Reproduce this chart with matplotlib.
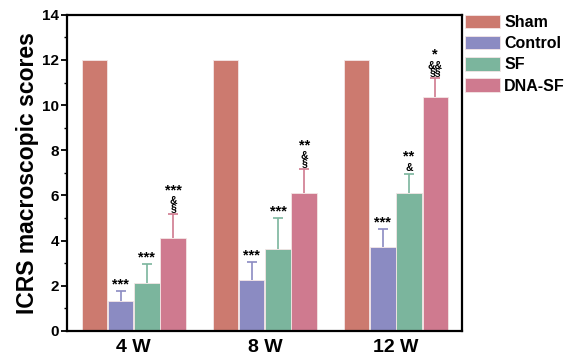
import numpy as np
import matplotlib.pyplot as plt

plt.rcParams['font.family'] = ['Liberation Sans', 'DejaVu Sans']
plt.rcParams['font.weight'] = 'bold'

weeks = ["4 W", "8 W", "12 W"]
groups = ["Sham", "Control", "SF", "DNA-SF"]
colors = ["#CC7A6F", "#8B8BC2", "#7BB59D", "#CF7A8F"]

# means per group (4 W, 8 W, 12 W)
sham = [12.0, 12.0, 12.0]
control = [1.33, 2.25, 3.72]
sf = [2.13, 3.63, 6.11]
dna_sf = [4.12, 6.11, 10.37]

# upper error (sd)
sham_err = [0, 0, 0]
control_err = [0.45, 0.8, 0.8]
sf_err = [0.85, 1.37, 0.85]
dna_sf_err = [1.06, 1.07, 0.83]

# significance marks above bars (top line first)
control_marks = ["***", "***", "***"]
sf_marks = ["***", "***", "**\n&"]
dna_sf_marks = ["***\n&\n§", "**\n&\n§", "*\n&&\n§§"]

means = [sham, control, sf, dna_sf]
errs = [sham_err, control_err, sf_err, dna_sf_err]
marks = [None, control_marks, sf_marks, dna_sf_marks]

fig = plt.figure(figsize=(5.69, 3.62), dpi=100)
ax = fig.add_axes([0.118, 0.086, 0.694, 0.873])
renderer = fig.canvas.get_renderer()

x = np.arange(len(weeks))
width = 0.2
offsets = [-1.5, -0.5, 0.5, 1.5]


def put_marks(xp, yp, text):
    # stars on top, & / § lines stacked under them
    lines = text.split("\n")
    stars = lines[0]
    h = 0.0
    if len(lines) > 1:
        t = ax.annotate("\n".join(lines[1:]), (xp, yp), xytext=(0, 0.5), textcoords="offset points",
                        ha="center", va="bottom", fontsize=7.5, fontweight="bold", linespacing=0.6)
        h = t.get_window_extent(renderer).height * 72.0 / fig.dpi + 0.5
    ax.annotate(stars, (xp, yp), xytext=(0, h - 0.5), textcoords="offset points",
                ha="center", va="bottom", fontsize=10.5, fontweight="bold")


for i in range(len(groups)):
    pos = x + offsets[i] * width
    ax.bar(pos, means[i], width * 0.97, color=colors[i], edgecolor="#f4e6e6",
           linewidth=0.6, label=groups[i], zorder=2)
    if i > 0:
        eb = ax.errorbar(pos, means[i], yerr=[np.zeros(3), errs[i]], fmt="none",
                         ecolor=colors[i], elinewidth=1.2, capsize=3.5, capthick=1.2, zorder=1)
        eb[1][0].set_visible(False)  # no lower cap

ax.set_xlim(-0.508, 2.504)
ax.set_ylim(0, 14)

for i in range(1, len(groups)):
    pos = x + offsets[i] * width
    for j in range(len(weeks)):
        put_marks(pos[j], means[i][j] + errs[i][j], marks[i][j])

ax.set_yticks(np.arange(0, 15, 2))
ax.set_yticks(np.arange(0, 15, 1), minor=True)
ax.set_xticks(x)
ax.set_xticklabels(weeks, fontsize=14, fontweight="bold")
ax.tick_params(axis="x", length=0, pad=6)
ax.tick_params(axis="y", which="major", length=4, width=1.3, labelsize=11, pad=2)
ax.tick_params(axis="y", which="minor", length=2.5, width=1.0)
for lbl in ax.get_yticklabels():
    lbl.set_fontweight("bold")
for s in ax.spines.values():
    s.set_linewidth(1.6)

ax.set_ylabel("ICRS macroscopic scores", fontsize=16.5, fontweight="bold", labelpad=2)

leg = ax.legend(loc="upper left", bbox_to_anchor=(1.008, 1.0), frameon=False,
                prop={"size": 11.5, "weight": "bold"}, handlelength=2.2, handleheight=0.9,
                handletextpad=0.25, labelspacing=0.38, borderaxespad=0.0, borderpad=0.0)

fig.savefig("out.png", dpi=100)
